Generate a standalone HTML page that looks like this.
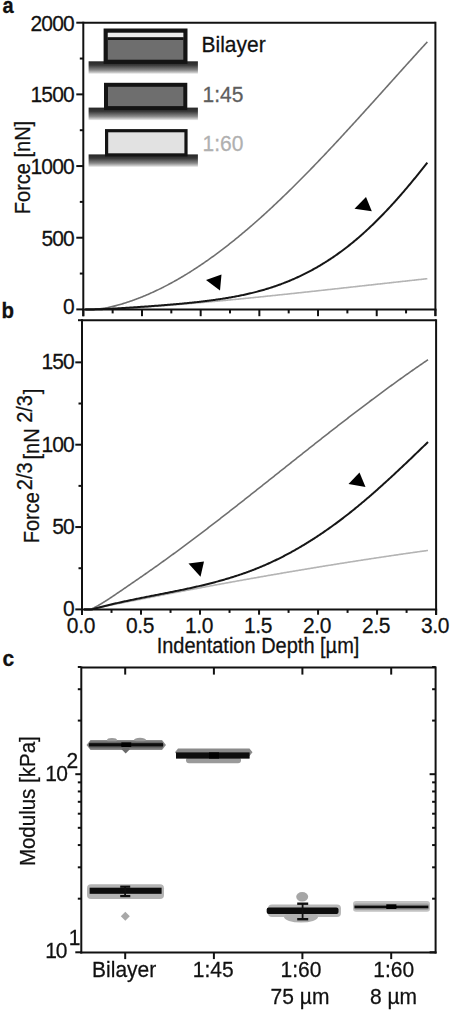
<!DOCTYPE html>
<html><head><meta charset="utf-8"><style>
html,body{margin:0;padding:0;background:#fff;}
svg{display:block;}
text{font-family:"Liberation Sans",sans-serif;stroke-width:0.25px;}
</style></head><body>
<svg width="450" height="1011" viewBox="0 0 450 1011">
<defs><filter id="soft" x="-5%" y="-50%" width="110%" height="200%"><feGaussianBlur stdDeviation="0.6"/></filter><linearGradient id="bg" x1="0" y1="0" x2="0" y2="1">
<stop offset="0" stop-color="#262626"/><stop offset="0.3" stop-color="#383838"/><stop offset="0.7" stop-color="#888"/><stop offset="0.9" stop-color="#c8c8c8"/><stop offset="1" stop-color="#ededed"/></linearGradient></defs>
<rect width="450" height="1011" fill="#fff"/>
<text transform="translate(2.50,13.20) scale(1,1.07)" font-size="20" text-anchor="start" fill="#111" stroke="#111" font-weight="bold">a</text>
<text transform="translate(1.50,317.60) scale(1,1.07)" font-size="20.5" text-anchor="start" fill="#111" stroke="#111" font-weight="bold">b</text>
<text transform="translate(2.50,665.80) scale(1,1.07)" font-size="21" text-anchor="start" fill="#111" stroke="#111" font-weight="bold">c</text>
<path d="M85.29,309.40 L86.28,309.40 L87.28,309.40 L88.27,309.40 L89.27,309.40 L90.26,309.40 L91.25,309.40 L92.25,309.39 L93.24,309.38 L94.24,309.37 L95.23,309.35 L96.23,309.33 L97.22,309.31 L98.22,309.28 L99.21,309.26 L100.20,309.23 L101.20,309.20 L102.19,309.17 L103.19,309.14 L104.18,309.11 L105.18,309.07 L106.17,309.04 L107.16,309.00 L108.16,308.96 L109.15,308.92 L110.15,308.88 L111.14,308.84 L112.14,308.80 L113.13,308.76 L114.12,308.72 L115.12,308.67 L116.11,308.63 L117.11,308.58 L118.10,308.53 L119.10,308.48 L120.09,308.44 L121.09,308.39 L122.08,308.34 L123.07,308.28 L124.07,308.23 L125.06,308.18 L126.06,308.13 L127.05,308.07 L128.05,308.02 L129.04,307.96 L130.03,307.91 L131.03,307.85 L132.02,307.79 L133.02,307.73 L134.01,307.67 L135.01,307.61 L136.00,307.55 L137.00,307.49 L137.99,307.43 L138.98,307.37 L139.98,307.31 L140.97,307.24 L141.97,307.18 L142.96,307.12 L143.96,307.05 L144.95,306.99 L145.94,306.92 L146.94,306.85 L147.93,306.79 L148.93,306.72 L149.92,306.65 L150.92,306.58 L151.91,306.51 L152.90,306.45 L153.90,306.38 L154.89,306.30 L155.89,306.23 L156.88,306.16 L157.88,306.09 L158.87,306.02 L159.87,305.95 L160.86,305.87 L161.85,305.80 L162.85,305.72 L163.84,305.65 L164.84,305.58 L165.83,305.50 L166.83,305.42 L167.82,305.35 L168.81,305.27 L169.81,305.19 L170.80,305.12 L171.80,305.04 L172.79,304.96 L173.79,304.88 L174.78,304.80 L175.77,304.72 L176.77,304.64 L177.76,304.56 L178.76,304.48 L179.75,304.40 L180.75,304.32 L181.74,304.24 L182.74,304.16 L183.73,304.07 L184.72,303.99 L185.72,303.91 L186.71,303.82 L187.71,303.74 L188.70,303.66 L189.70,303.57 L190.69,303.49 L191.68,303.40 L192.68,303.32 L193.67,303.23 L194.67,303.14 L195.66,303.06 L196.66,302.97 L197.65,302.88 L198.64,302.80 L199.64,302.71 L200.63,302.62 L201.63,302.53 L202.62,302.44 L203.62,302.36 L204.61,302.27 L205.61,302.18 L206.60,302.09 L207.59,302.00 L208.59,301.91 L209.58,301.82 L210.58,301.72 L211.57,301.63 L212.57,301.54 L213.56,301.45 L214.55,301.36 L215.55,301.27 L216.54,301.17 L217.54,301.08 L218.53,300.99 L219.53,300.89 L220.52,300.80 L221.51,300.71 L222.51,300.61 L223.50,300.52 L224.50,300.43 L225.49,300.33 L226.49,300.24 L227.48,300.14 L228.48,300.04 L229.47,299.95 L230.46,299.85 L231.46,299.76 L232.45,299.66 L233.45,299.56 L234.44,299.47 L235.44,299.37 L236.43,299.27 L237.42,299.18 L238.42,299.08 L239.41,298.98 L240.41,298.88 L241.40,298.78 L242.40,298.69 L243.39,298.59 L244.39,298.49 L245.38,298.39 L246.37,298.29 L247.37,298.19 L248.36,298.09 L249.36,297.99 L250.35,297.89 L251.35,297.79 L252.34,297.69 L253.33,297.59 L254.33,297.49 L255.32,297.39 L256.32,297.29 L257.31,297.19 L258.31,297.09 L259.30,296.98 L260.29,296.88 L261.29,296.78 L262.28,296.68 L263.28,296.58 L264.27,296.47 L265.27,296.37 L266.26,296.27 L267.26,296.17 L268.25,296.06 L269.24,295.96 L270.24,295.86 L271.23,295.75 L272.23,295.65 L273.22,295.55 L274.22,295.44 L275.21,295.34 L276.20,295.23 L277.20,295.13 L278.19,295.03 L279.19,294.92 L280.18,294.82 L281.18,294.71 L282.17,294.61 L283.16,294.50 L284.16,294.40 L285.15,294.29 L286.15,294.19 L287.14,294.08 L288.14,293.98 L289.13,293.87 L290.13,293.76 L291.12,293.66 L292.11,293.55 L293.11,293.45 L294.10,293.34 L295.10,293.23 L296.09,293.13 L297.09,293.02 L298.08,292.91 L299.07,292.81 L300.07,292.70 L301.06,292.59 L302.06,292.48 L303.05,292.38 L304.05,292.27 L305.04,292.16 L306.03,292.06 L307.03,291.95 L308.02,291.84 L309.02,291.73 L310.01,291.62 L311.01,291.52 L312.00,291.41 L313.00,291.30 L313.99,291.19 L314.98,291.08 L315.98,290.98 L316.97,290.87 L317.97,290.76 L318.96,290.65 L319.96,290.54 L320.95,290.43 L321.94,290.32 L322.94,290.22 L323.93,290.11 L324.93,290.00 L325.92,289.89 L326.92,289.78 L327.91,289.67 L328.90,289.56 L329.90,289.45 L330.89,289.34 L331.89,289.23 L332.88,289.12 L333.88,289.01 L334.87,288.91 L335.87,288.80 L336.86,288.69 L337.85,288.58 L338.85,288.47 L339.84,288.36 L340.84,288.25 L341.83,288.14 L342.83,288.03 L343.82,287.92 L344.81,287.81 L345.81,287.70 L346.80,287.59 L347.80,287.48 L348.79,287.37 L349.79,287.26 L350.78,287.15 L351.78,287.04 L352.77,286.93 L353.76,286.82 L354.76,286.71 L355.75,286.60 L356.75,286.49 L357.74,286.38 L358.74,286.27 L359.73,286.16 L360.72,286.05 L361.72,285.94 L362.71,285.82 L363.71,285.71 L364.70,285.60 L365.70,285.49 L366.69,285.38 L367.68,285.27 L368.68,285.16 L369.67,285.05 L370.67,284.94 L371.66,284.83 L372.66,284.72 L373.65,284.61 L374.65,284.50 L375.64,284.39 L376.63,284.28 L377.63,284.17 L378.62,284.06 L379.62,283.95 L380.61,283.84 L381.61,283.73 L382.60,283.62 L383.59,283.51 L384.59,283.40 L385.58,283.29 L386.58,283.18 L387.57,283.07 L388.57,282.96 L389.56,282.85 L390.55,282.74 L391.55,282.63 L392.54,282.51 L393.54,282.40 L394.53,282.29 L395.53,282.18 L396.52,282.07 L397.52,281.96 L398.51,281.85 L399.50,281.74 L400.50,281.63 L401.49,281.52 L402.49,281.41 L403.48,281.30 L404.48,281.20 L405.47,281.09 L406.46,280.98 L407.46,280.87 L408.45,280.76 L409.45,280.65 L410.44,280.54 L411.44,280.43 L412.43,280.32 L413.42,280.21 L414.42,280.10 L415.41,279.99 L416.41,279.88 L417.40,279.77 L418.40,279.66 L419.39,279.55 L420.39,279.44 L421.38,279.34 L422.37,279.23 L423.37,279.12 L424.36,279.01 L425.36,278.90 L426.35,278.79 L427.35,278.68" fill="none" stroke="#b4b4b4" stroke-width="1.6"/>
<path d="M85.29,309.40 L86.28,309.40 L87.28,309.40 L88.27,309.40 L89.27,309.40 L90.26,309.40 L91.25,309.40 L92.25,309.39 L93.24,309.36 L94.24,309.31 L95.23,309.25 L96.23,309.18 L97.22,309.10 L98.22,309.00 L99.21,308.90 L100.20,308.78 L101.20,308.66 L102.19,308.52 L103.19,308.37 L104.18,308.21 L105.18,308.05 L106.17,307.87 L107.16,307.68 L108.16,307.49 L109.15,307.28 L110.15,307.07 L111.14,306.84 L112.14,306.61 L113.13,306.37 L114.12,306.13 L115.12,305.87 L116.11,305.61 L117.11,305.35 L118.10,305.07 L119.10,304.80 L120.09,304.51 L121.09,304.22 L122.08,303.92 L123.07,303.62 L124.07,303.32 L125.06,303.00 L126.06,302.69 L127.05,302.36 L128.05,302.03 L129.04,301.70 L130.03,301.36 L131.03,301.01 L132.02,300.67 L133.02,300.31 L134.01,299.95 L135.01,299.59 L136.00,299.22 L137.00,298.84 L137.99,298.46 L138.98,298.08 L139.98,297.69 L140.97,297.29 L141.97,296.89 L142.96,296.49 L143.96,296.08 L144.95,295.67 L145.94,295.25 L146.94,294.83 L147.93,294.40 L148.93,293.97 L149.92,293.53 L150.92,293.09 L151.91,292.64 L152.90,292.19 L153.90,291.73 L154.89,291.27 L155.89,290.81 L156.88,290.34 L157.88,289.86 L158.87,289.38 L159.87,288.90 L160.86,288.41 L161.85,287.91 L162.85,287.41 L163.84,286.91 L164.84,286.40 L165.83,285.89 L166.83,285.37 L167.82,284.85 L168.81,284.32 L169.81,283.79 L170.80,283.25 L171.80,282.71 L172.79,282.17 L173.79,281.62 L174.78,281.06 L175.77,280.50 L176.77,279.94 L177.76,279.37 L178.76,278.80 L179.75,278.22 L180.75,277.64 L181.74,277.05 L182.74,276.46 L183.73,275.87 L184.72,275.27 L185.72,274.67 L186.71,274.06 L187.71,273.44 L188.70,272.83 L189.70,272.21 L190.69,271.58 L191.68,270.95 L192.68,270.32 L193.67,269.68 L194.67,269.04 L195.66,268.39 L196.66,267.74 L197.65,267.08 L198.64,266.42 L199.64,265.76 L200.63,265.09 L201.63,264.42 L202.62,263.74 L203.62,263.06 L204.61,262.38 L205.61,261.69 L206.60,261.00 L207.59,260.30 L208.59,259.60 L209.58,258.90 L210.58,258.19 L211.57,257.47 L212.57,256.76 L213.56,256.04 L214.55,255.31 L215.55,254.58 L216.54,253.85 L217.54,253.11 L218.53,252.37 L219.53,251.63 L220.52,250.88 L221.51,250.13 L222.51,249.37 L223.50,248.61 L224.50,247.85 L225.49,247.08 L226.49,246.31 L227.48,245.54 L228.48,244.76 L229.47,243.98 L230.46,243.19 L231.46,242.40 L232.45,241.61 L233.45,240.81 L234.44,240.01 L235.44,239.20 L236.43,238.40 L237.42,237.59 L238.42,236.77 L239.41,235.95 L240.41,235.13 L241.40,234.30 L242.40,233.47 L243.39,232.64 L244.39,231.81 L245.38,230.97 L246.37,230.12 L247.37,229.28 L248.36,228.43 L249.36,227.57 L250.35,226.72 L251.35,225.86 L252.34,225.00 L253.33,224.13 L254.33,223.26 L255.32,222.39 L256.32,221.51 L257.31,220.63 L258.31,219.75 L259.30,218.86 L260.29,217.97 L261.29,217.08 L262.28,216.19 L263.28,215.29 L264.27,214.39 L265.27,213.48 L266.26,212.57 L267.26,211.66 L268.25,210.75 L269.24,209.83 L270.24,208.91 L271.23,207.99 L272.23,207.07 L273.22,206.14 L274.22,205.21 L275.21,204.27 L276.20,203.33 L277.20,202.40 L278.19,201.45 L279.19,200.51 L280.18,199.56 L281.18,198.61 L282.17,197.65 L283.16,196.70 L284.16,195.74 L285.15,194.78 L286.15,193.81 L287.14,192.85 L288.14,191.88 L289.13,190.90 L290.13,189.93 L291.12,188.95 L292.11,187.97 L293.11,186.99 L294.10,186.01 L295.10,185.02 L296.09,184.03 L297.09,183.04 L298.08,182.04 L299.07,181.05 L300.07,180.05 L301.06,179.05 L302.06,178.04 L303.05,177.04 L304.05,176.03 L305.04,175.02 L306.03,174.01 L307.03,172.99 L308.02,171.98 L309.02,170.96 L310.01,169.94 L311.01,168.91 L312.00,167.89 L313.00,166.86 L313.99,165.83 L314.98,164.80 L315.98,163.77 L316.97,162.73 L317.97,161.69 L318.96,160.66 L319.96,159.61 L320.95,158.57 L321.94,157.53 L322.94,156.48 L323.93,155.43 L324.93,154.38 L325.92,153.33 L326.92,152.28 L327.91,151.22 L328.90,150.17 L329.90,149.11 L330.89,148.05 L331.89,146.99 L332.88,145.93 L333.88,144.86 L334.87,143.80 L335.87,142.73 L336.86,141.66 L337.85,140.59 L338.85,139.52 L339.84,138.45 L340.84,137.37 L341.83,136.30 L342.83,135.22 L343.82,134.14 L344.81,133.06 L345.81,131.98 L346.80,130.90 L347.80,129.82 L348.79,128.73 L349.79,127.65 L350.78,126.56 L351.78,125.47 L352.77,124.39 L353.76,123.30 L354.76,122.21 L355.75,121.11 L356.75,120.02 L357.74,118.93 L358.74,117.84 L359.73,116.74 L360.72,115.65 L361.72,114.55 L362.71,113.45 L363.71,112.35 L364.70,111.26 L365.70,110.16 L366.69,109.06 L367.68,107.96 L368.68,106.85 L369.67,105.75 L370.67,104.65 L371.66,103.55 L372.66,102.44 L373.65,101.34 L374.65,100.24 L375.64,99.13 L376.63,98.03 L377.63,96.92 L378.62,95.82 L379.62,94.71 L380.61,93.60 L381.61,92.50 L382.60,91.39 L383.59,90.28 L384.59,89.18 L385.58,88.07 L386.58,86.96 L387.57,85.86 L388.57,84.75 L389.56,83.64 L390.55,82.53 L391.55,81.43 L392.54,80.32 L393.54,79.21 L394.53,78.10 L395.53,77.00 L396.52,75.89 L397.52,74.79 L398.51,73.68 L399.50,72.57 L400.50,71.47 L401.49,70.36 L402.49,69.26 L403.48,68.15 L404.48,67.05 L405.47,65.95 L406.46,64.84 L407.46,63.74 L408.45,62.64 L409.45,61.54 L410.44,60.44 L411.44,59.34 L412.43,58.24 L413.42,57.14 L414.42,56.04 L415.41,54.94 L416.41,53.84 L417.40,52.75 L418.40,51.65 L419.39,50.56 L420.39,49.47 L421.38,48.37 L422.37,47.28 L423.37,46.19 L424.36,45.10 L425.36,44.01 L426.35,42.93 L427.35,41.84" fill="none" stroke="#6f6f6f" stroke-width="1.6"/>
<path d="M85.29,309.40 L86.28,309.40 L87.28,309.40 L88.27,309.40 L89.27,309.40 L90.26,309.40 L91.25,309.40 L92.25,309.40 L93.24,309.40 L94.24,309.39 L95.23,309.37 L96.23,309.35 L97.22,309.32 L98.22,309.29 L99.21,309.26 L100.20,309.22 L101.20,309.18 L102.19,309.14 L103.19,309.10 L104.18,309.06 L105.18,309.01 L106.17,308.97 L107.16,308.92 L108.16,308.87 L109.15,308.82 L110.15,308.77 L111.14,308.72 L112.14,308.66 L113.13,308.61 L114.12,308.56 L115.12,308.50 L116.11,308.44 L117.11,308.39 L118.10,308.33 L119.10,308.27 L120.09,308.21 L121.09,308.15 L122.08,308.09 L123.07,308.03 L124.07,307.97 L125.06,307.91 L126.06,307.85 L127.05,307.78 L128.05,307.72 L129.04,307.66 L130.03,307.59 L131.03,307.53 L132.02,307.47 L133.02,307.40 L134.01,307.33 L135.01,307.27 L136.00,307.20 L137.00,307.14 L137.99,307.07 L138.98,307.00 L139.98,306.93 L140.97,306.86 L141.97,306.80 L142.96,306.73 L143.96,306.66 L144.95,306.59 L145.94,306.52 L146.94,306.45 L147.93,306.38 L148.93,306.30 L149.92,306.23 L150.92,306.16 L151.91,306.09 L152.90,306.01 L153.90,305.94 L154.89,305.87 L155.89,305.79 L156.88,305.72 L157.88,305.64 L158.87,305.57 L159.87,305.49 L160.86,305.41 L161.85,305.33 L162.85,305.26 L163.84,305.18 L164.84,305.10 L165.83,305.02 L166.83,304.94 L167.82,304.85 L168.81,304.77 L169.81,304.69 L170.80,304.61 L171.80,304.52 L172.79,304.44 L173.79,304.35 L174.78,304.26 L175.77,304.18 L176.77,304.09 L177.76,304.00 L178.76,303.91 L179.75,303.82 L180.75,303.73 L181.74,303.64 L182.74,303.54 L183.73,303.45 L184.72,303.35 L185.72,303.26 L186.71,303.16 L187.71,303.06 L188.70,302.96 L189.70,302.86 L190.69,302.76 L191.68,302.65 L192.68,302.55 L193.67,302.44 L194.67,302.34 L195.66,302.23 L196.66,302.12 L197.65,302.01 L198.64,301.90 L199.64,301.78 L200.63,301.67 L201.63,301.55 L202.62,301.44 L203.62,301.32 L204.61,301.20 L205.61,301.07 L206.60,300.95 L207.59,300.82 L208.59,300.70 L209.58,300.57 L210.58,300.44 L211.57,300.30 L212.57,300.17 L213.56,300.03 L214.55,299.90 L215.55,299.76 L216.54,299.61 L217.54,299.47 L218.53,299.32 L219.53,299.18 L220.52,299.03 L221.51,298.87 L222.51,298.72 L223.50,298.56 L224.50,298.40 L225.49,298.24 L226.49,298.08 L227.48,297.91 L228.48,297.74 L229.47,297.57 L230.46,297.40 L231.46,297.22 L232.45,297.05 L233.45,296.87 L234.44,296.68 L235.44,296.49 L236.43,296.31 L237.42,296.11 L238.42,295.92 L239.41,295.72 L240.41,295.52 L241.40,295.32 L242.40,295.11 L243.39,294.90 L244.39,294.68 L245.38,294.47 L246.37,294.25 L247.37,294.03 L248.36,293.80 L249.36,293.57 L250.35,293.34 L251.35,293.10 L252.34,292.86 L253.33,292.61 L254.33,292.37 L255.32,292.11 L256.32,291.86 L257.31,291.60 L258.31,291.34 L259.30,291.07 L260.29,290.80 L261.29,290.52 L262.28,290.24 L263.28,289.96 L264.27,289.67 L265.27,289.38 L266.26,289.08 L267.26,288.78 L268.25,288.47 L269.24,288.16 L270.24,287.85 L271.23,287.53 L272.23,287.20 L273.22,286.87 L274.22,286.54 L275.21,286.20 L276.20,285.86 L277.20,285.51 L278.19,285.16 L279.19,284.80 L280.18,284.44 L281.18,284.07 L282.17,283.69 L283.16,283.32 L284.16,282.93 L285.15,282.55 L286.15,282.15 L287.14,281.76 L288.14,281.35 L289.13,280.95 L290.13,280.53 L291.12,280.11 L292.11,279.69 L293.11,279.26 L294.10,278.82 L295.10,278.38 L296.09,277.94 L297.09,277.49 L298.08,277.03 L299.07,276.57 L300.07,276.10 L301.06,275.63 L302.06,275.15 L303.05,274.66 L304.05,274.17 L305.04,273.68 L306.03,273.18 L307.03,272.67 L308.02,272.15 L309.02,271.63 L310.01,271.11 L311.01,270.58 L312.00,270.04 L313.00,269.50 L313.99,268.95 L314.98,268.39 L315.98,267.83 L316.97,267.26 L317.97,266.69 L318.96,266.11 L319.96,265.52 L320.95,264.93 L321.94,264.33 L322.94,263.72 L323.93,263.11 L324.93,262.49 L325.92,261.87 L326.92,261.24 L327.91,260.60 L328.90,259.95 L329.90,259.30 L330.89,258.65 L331.89,257.98 L332.88,257.31 L333.88,256.63 L334.87,255.95 L335.87,255.26 L336.86,254.56 L337.85,253.85 L338.85,253.14 L339.84,252.42 L340.84,251.70 L341.83,250.97 L342.83,250.23 L343.82,249.48 L344.81,248.73 L345.81,247.96 L346.80,247.20 L347.80,246.42 L348.79,245.64 L349.79,244.85 L350.78,244.05 L351.78,243.25 L352.77,242.44 L353.76,241.62 L354.76,240.79 L355.75,239.96 L356.75,239.12 L357.74,238.27 L358.74,237.41 L359.73,236.55 L360.72,235.68 L361.72,234.80 L362.71,233.92 L363.71,233.03 L364.70,232.13 L365.70,231.22 L366.69,230.31 L367.68,229.39 L368.68,228.46 L369.67,227.53 L370.67,226.58 L371.66,225.64 L372.66,224.68 L373.65,223.72 L374.65,222.75 L375.64,221.77 L376.63,220.79 L377.63,219.80 L378.62,218.80 L379.62,217.80 L380.61,216.79 L381.61,215.77 L382.60,214.75 L383.59,213.72 L384.59,212.68 L385.58,211.64 L386.58,210.59 L387.57,209.53 L388.57,208.47 L389.56,207.40 L390.55,206.32 L391.55,205.24 L392.54,204.15 L393.54,203.06 L394.53,201.96 L395.53,200.85 L396.52,199.74 L397.52,198.62 L398.51,197.50 L399.50,196.37 L400.50,195.23 L401.49,194.09 L402.49,192.94 L403.48,191.79 L404.48,190.63 L405.47,189.46 L406.46,188.29 L407.46,187.12 L408.45,185.94 L409.45,184.75 L410.44,183.56 L411.44,182.36 L412.43,181.16 L413.42,179.95 L414.42,178.74 L415.41,177.52 L416.41,176.30 L417.40,175.07 L418.40,173.84 L419.39,172.60 L420.39,171.36 L421.38,170.11 L422.37,168.86 L423.37,167.60 L424.36,166.34 L425.36,165.08 L426.35,163.81 L427.35,162.54" fill="none" stroke="#161616" stroke-width="2.0"/>
<path d="M84.00,609.40 L85.00,609.40 L86.00,609.40 L87.00,609.40 L88.00,609.40 L89.00,609.40 L90.00,609.39 L91.00,609.18 L92.00,608.98 L93.00,608.77 L94.00,608.57 L95.00,608.37 L96.00,608.16 L97.00,607.96 L98.00,607.76 L99.00,607.55 L100.00,607.35 L101.00,607.15 L102.00,606.95 L103.00,606.75 L104.00,606.54 L105.00,606.34 L106.00,606.14 L107.00,605.94 L108.00,605.74 L109.00,605.53 L110.00,605.33 L111.00,605.13 L112.00,604.93 L113.00,604.73 L114.00,604.53 L115.00,604.33 L116.00,604.13 L117.00,603.93 L118.00,603.73 L119.00,603.53 L120.00,603.33 L121.00,603.13 L122.00,602.93 L123.00,602.73 L124.00,602.53 L125.00,602.33 L126.00,602.13 L127.00,601.94 L128.00,601.74 L129.00,601.54 L130.00,601.34 L131.00,601.14 L132.00,600.94 L133.00,600.75 L134.00,600.55 L135.00,600.35 L136.00,600.15 L137.00,599.96 L138.00,599.76 L139.00,599.56 L140.00,599.37 L141.00,599.17 L142.00,598.97 L143.00,598.78 L144.00,598.58 L145.00,598.39 L146.00,598.19 L147.00,597.99 L148.00,597.80 L149.00,597.60 L150.00,597.41 L151.00,597.21 L152.00,597.02 L153.00,596.82 L154.00,596.63 L155.00,596.44 L156.00,596.24 L157.00,596.05 L158.00,595.85 L159.00,595.66 L160.00,595.47 L161.00,595.27 L162.00,595.08 L163.00,594.89 L164.00,594.69 L165.00,594.50 L166.00,594.31 L167.00,594.12 L168.00,593.92 L169.00,593.73 L170.00,593.54 L171.00,593.35 L172.00,593.16 L173.00,592.97 L174.00,592.77 L175.00,592.58 L176.00,592.39 L177.00,592.20 L178.00,592.01 L179.00,591.82 L180.00,591.63 L181.00,591.44 L182.00,591.25 L183.00,591.06 L184.00,590.87 L185.00,590.68 L186.00,590.49 L187.00,590.30 L188.00,590.11 L189.00,589.93 L190.00,589.74 L191.00,589.55 L192.00,589.36 L193.00,589.17 L194.00,588.99 L195.00,588.80 L196.00,588.61 L197.00,588.42 L198.00,588.24 L199.00,588.05 L200.00,587.86 L201.00,587.68 L202.00,587.49 L203.00,587.30 L204.00,587.12 L205.00,586.93 L206.00,586.74 L207.00,586.56 L208.00,586.37 L209.00,586.19 L210.00,586.00 L211.00,585.82 L212.00,585.63 L213.00,585.45 L214.00,585.26 L215.00,585.08 L216.00,584.90 L217.00,584.71 L218.00,584.53 L219.00,584.35 L220.00,584.16 L221.00,583.98 L222.00,583.80 L223.00,583.61 L224.00,583.43 L225.00,583.25 L226.00,583.07 L227.00,582.88 L228.00,582.70 L229.00,582.52 L230.00,582.34 L231.00,582.16 L232.00,581.98 L233.00,581.80 L234.00,581.62 L235.00,581.44 L236.00,581.26 L237.00,581.08 L238.00,580.90 L239.00,580.72 L240.00,580.54 L241.00,580.36 L242.00,580.18 L243.00,580.00 L244.00,579.82 L245.00,579.64 L246.00,579.46 L247.00,579.28 L248.00,579.11 L249.00,578.93 L250.00,578.75 L251.00,578.57 L252.00,578.40 L253.00,578.22 L254.00,578.04 L255.00,577.86 L256.00,577.69 L257.00,577.51 L258.00,577.34 L259.00,577.16 L260.00,576.98 L261.00,576.81 L262.00,576.63 L263.00,576.46 L264.00,576.28 L265.00,576.11 L266.00,575.93 L267.00,575.76 L268.00,575.58 L269.00,575.41 L270.00,575.24 L271.00,575.06 L272.00,574.89 L273.00,574.72 L274.00,574.54 L275.00,574.37 L276.00,574.20 L277.00,574.02 L278.00,573.85 L279.00,573.68 L280.00,573.51 L281.00,573.34 L282.00,573.16 L283.00,572.99 L284.00,572.82 L285.00,572.65 L286.00,572.48 L287.00,572.31 L288.00,572.14 L289.00,571.97 L290.00,571.80 L291.00,571.63 L292.00,571.46 L293.00,571.29 L294.00,571.12 L295.00,570.95 L296.00,570.78 L297.00,570.62 L298.00,570.45 L299.00,570.28 L300.00,570.11 L301.00,569.94 L302.00,569.78 L303.00,569.61 L304.00,569.44 L305.00,569.28 L306.00,569.11 L307.00,568.94 L308.00,568.78 L309.00,568.61 L310.00,568.44 L311.00,568.28 L312.00,568.11 L313.00,567.95 L314.00,567.78 L315.00,567.62 L316.00,567.45 L317.00,567.29 L318.00,567.13 L319.00,566.96 L320.00,566.80 L321.00,566.63 L322.00,566.47 L323.00,566.31 L324.00,566.15 L325.00,565.98 L326.00,565.82 L327.00,565.66 L328.00,565.50 L329.00,565.33 L330.00,565.17 L331.00,565.01 L332.00,564.85 L333.00,564.69 L334.00,564.53 L335.00,564.37 L336.00,564.21 L337.00,564.05 L338.00,563.89 L339.00,563.73 L340.00,563.57 L341.00,563.41 L342.00,563.25 L343.00,563.09 L344.00,562.93 L345.00,562.77 L346.00,562.62 L347.00,562.46 L348.00,562.30 L349.00,562.14 L350.00,561.99 L351.00,561.83 L352.00,561.67 L353.00,561.52 L354.00,561.36 L355.00,561.20 L356.00,561.05 L357.00,560.89 L358.00,560.74 L359.00,560.58 L360.00,560.43 L361.00,560.27 L362.00,560.12 L363.00,559.96 L364.00,559.81 L365.00,559.65 L366.00,559.50 L367.00,559.35 L368.00,559.19 L369.00,559.04 L370.00,558.89 L371.00,558.73 L372.00,558.58 L373.00,558.43 L374.00,558.28 L375.00,558.13 L376.00,557.98 L377.00,557.82 L378.00,557.67 L379.00,557.52 L380.00,557.37 L381.00,557.22 L382.00,557.07 L383.00,556.92 L384.00,556.77 L385.00,556.62 L386.00,556.47 L387.00,556.32 L388.00,556.18 L389.00,556.03 L390.00,555.88 L391.00,555.73 L392.00,555.58 L393.00,555.44 L394.00,555.29 L395.00,555.14 L396.00,554.99 L397.00,554.85 L398.00,554.70 L399.00,554.56 L400.00,554.41 L401.00,554.26 L402.00,554.12 L403.00,553.97 L404.00,553.83 L405.00,553.68 L406.00,553.54 L407.00,553.40 L408.00,553.25 L409.00,553.11 L410.00,552.96 L411.00,552.82 L412.00,552.68 L413.00,552.54 L414.00,552.39 L415.00,552.25 L416.00,552.11 L417.00,551.97 L418.00,551.82 L419.00,551.68 L420.00,551.54 L421.00,551.40 L422.00,551.26 L423.00,551.12 L424.00,550.98 L425.00,550.84 L426.00,550.70 L427.00,550.56 L428.00,550.42" fill="none" stroke="#b4b4b4" stroke-width="1.6"/>
<path d="M84.00,609.40 L85.00,609.40 L86.00,609.40 L87.00,609.40 L88.00,609.40 L89.00,609.40 L90.00,609.40 L91.00,609.11 L92.00,608.66 L93.00,608.19 L94.00,607.71 L95.00,607.20 L96.00,606.68 L97.00,606.15 L98.00,605.60 L99.00,605.04 L100.00,604.46 L101.00,603.87 L102.00,603.27 L103.00,602.66 L104.00,602.04 L105.00,601.41 L106.00,600.77 L107.00,600.13 L108.00,599.48 L109.00,598.82 L110.00,598.16 L111.00,597.49 L112.00,596.82 L113.00,596.14 L114.00,595.47 L115.00,594.79 L116.00,594.11 L117.00,593.44 L118.00,592.76 L119.00,592.08 L120.00,591.40 L121.00,590.72 L122.00,590.04 L123.00,589.36 L124.00,588.68 L125.00,588.00 L126.00,587.32 L127.00,586.63 L128.00,585.95 L129.00,585.27 L130.00,584.58 L131.00,583.90 L132.00,583.21 L133.00,582.52 L134.00,581.84 L135.00,581.15 L136.00,580.46 L137.00,579.77 L138.00,579.08 L139.00,578.39 L140.00,577.70 L141.00,577.00 L142.00,576.31 L143.00,575.62 L144.00,574.92 L145.00,574.22 L146.00,573.53 L147.00,572.83 L148.00,572.13 L149.00,571.43 L150.00,570.72 L151.00,570.02 L152.00,569.32 L153.00,568.61 L154.00,567.91 L155.00,567.20 L156.00,566.49 L157.00,565.78 L158.00,565.07 L159.00,564.35 L160.00,563.64 L161.00,562.92 L162.00,562.21 L163.00,561.49 L164.00,560.77 L165.00,560.05 L166.00,559.33 L167.00,558.61 L168.00,557.88 L169.00,557.16 L170.00,556.43 L171.00,555.70 L172.00,554.97 L173.00,554.24 L174.00,553.51 L175.00,552.78 L176.00,552.04 L177.00,551.31 L178.00,550.57 L179.00,549.83 L180.00,549.10 L181.00,548.36 L182.00,547.62 L183.00,546.87 L184.00,546.13 L185.00,545.39 L186.00,544.64 L187.00,543.90 L188.00,543.15 L189.00,542.40 L190.00,541.65 L191.00,540.90 L192.00,540.15 L193.00,539.40 L194.00,538.65 L195.00,537.89 L196.00,537.14 L197.00,536.38 L198.00,535.62 L199.00,534.87 L200.00,534.11 L201.00,533.35 L202.00,532.59 L203.00,531.83 L204.00,531.07 L205.00,530.30 L206.00,529.54 L207.00,528.77 L208.00,528.01 L209.00,527.24 L210.00,526.48 L211.00,525.71 L212.00,524.94 L213.00,524.17 L214.00,523.40 L215.00,522.63 L216.00,521.86 L217.00,521.09 L218.00,520.31 L219.00,519.54 L220.00,518.77 L221.00,517.99 L222.00,517.21 L223.00,516.44 L224.00,515.66 L225.00,514.88 L226.00,514.11 L227.00,513.33 L228.00,512.55 L229.00,511.77 L230.00,510.99 L231.00,510.21 L232.00,509.43 L233.00,508.64 L234.00,507.86 L235.00,507.08 L236.00,506.29 L237.00,505.51 L238.00,504.73 L239.00,503.94 L240.00,503.16 L241.00,502.37 L242.00,501.58 L243.00,500.80 L244.00,500.01 L245.00,499.22 L246.00,498.43 L247.00,497.65 L248.00,496.86 L249.00,496.07 L250.00,495.28 L251.00,494.49 L252.00,493.70 L253.00,492.91 L254.00,492.12 L255.00,491.33 L256.00,490.53 L257.00,489.74 L258.00,488.95 L259.00,488.16 L260.00,487.37 L261.00,486.57 L262.00,485.78 L263.00,484.99 L264.00,484.20 L265.00,483.40 L266.00,482.61 L267.00,481.81 L268.00,481.02 L269.00,480.23 L270.00,479.43 L271.00,478.64 L272.00,477.84 L273.00,477.05 L274.00,476.26 L275.00,475.46 L276.00,474.67 L277.00,473.87 L278.00,473.08 L279.00,472.28 L280.00,471.49 L281.00,470.69 L282.00,469.90 L283.00,469.10 L284.00,468.31 L285.00,467.51 L286.00,466.72 L287.00,465.92 L288.00,465.13 L289.00,464.34 L290.00,463.54 L291.00,462.75 L292.00,461.95 L293.00,461.16 L294.00,460.36 L295.00,459.57 L296.00,458.78 L297.00,457.98 L298.00,457.19 L299.00,456.40 L300.00,455.60 L301.00,454.81 L302.00,454.02 L303.00,453.23 L304.00,452.44 L305.00,451.64 L306.00,450.85 L307.00,450.06 L308.00,449.27 L309.00,448.48 L310.00,447.69 L311.00,446.90 L312.00,446.11 L313.00,445.32 L314.00,444.53 L315.00,443.74 L316.00,442.96 L317.00,442.17 L318.00,441.38 L319.00,440.59 L320.00,439.81 L321.00,439.02 L322.00,438.24 L323.00,437.45 L324.00,436.67 L325.00,435.88 L326.00,435.10 L327.00,434.31 L328.00,433.53 L329.00,432.75 L330.00,431.97 L331.00,431.19 L332.00,430.41 L333.00,429.63 L334.00,428.85 L335.00,428.07 L336.00,427.29 L337.00,426.51 L338.00,425.73 L339.00,424.96 L340.00,424.18 L341.00,423.41 L342.00,422.63 L343.00,421.86 L344.00,421.09 L345.00,420.31 L346.00,419.54 L347.00,418.77 L348.00,418.00 L349.00,417.23 L350.00,416.46 L351.00,415.70 L352.00,414.93 L353.00,414.16 L354.00,413.40 L355.00,412.63 L356.00,411.87 L357.00,411.10 L358.00,410.34 L359.00,409.58 L360.00,408.82 L361.00,408.06 L362.00,407.30 L363.00,406.54 L364.00,405.79 L365.00,405.03 L366.00,404.27 L367.00,403.52 L368.00,402.77 L369.00,402.02 L370.00,401.26 L371.00,400.51 L372.00,399.76 L373.00,399.02 L374.00,398.27 L375.00,397.52 L376.00,396.78 L377.00,396.03 L378.00,395.29 L379.00,394.55 L380.00,393.81 L381.00,393.07 L382.00,392.33 L383.00,391.59 L384.00,390.85 L385.00,390.12 L386.00,389.38 L387.00,388.65 L388.00,387.92 L389.00,387.19 L390.00,386.46 L391.00,385.73 L392.00,385.00 L393.00,384.28 L394.00,383.55 L395.00,382.83 L396.00,382.11 L397.00,381.38 L398.00,380.67 L399.00,379.95 L400.00,379.23 L401.00,378.51 L402.00,377.80 L403.00,377.09 L404.00,376.37 L405.00,375.66 L406.00,374.96 L407.00,374.25 L408.00,373.54 L409.00,372.84 L410.00,372.13 L411.00,371.43 L412.00,370.73 L413.00,370.03 L414.00,369.33 L415.00,368.64 L416.00,367.94 L417.00,367.25 L418.00,366.56 L419.00,365.87 L420.00,365.18 L421.00,364.49 L422.00,363.81 L423.00,363.12 L424.00,362.44 L425.00,361.76 L426.00,361.08 L427.00,360.40 L428.00,359.73" fill="none" stroke="#6f6f6f" stroke-width="1.6"/>
<path d="M84.00,609.40 L85.00,609.40 L86.00,609.40 L87.00,609.40 L88.00,609.40 L89.00,609.40 L90.00,609.40 L91.00,609.40 L92.00,609.40 L93.00,609.12 L94.00,608.84 L95.00,608.57 L96.00,608.30 L97.00,608.03 L98.00,607.76 L99.00,607.50 L100.00,607.24 L101.00,606.98 L102.00,606.72 L103.00,606.47 L104.00,606.21 L105.00,605.96 L106.00,605.72 L107.00,605.47 L108.00,605.22 L109.00,604.98 L110.00,604.74 L111.00,604.50 L112.00,604.27 L113.00,604.03 L114.00,603.80 L115.00,603.57 L116.00,603.34 L117.00,603.11 L118.00,602.88 L119.00,602.66 L120.00,602.43 L121.00,602.21 L122.00,601.99 L123.00,601.77 L124.00,601.55 L125.00,601.34 L126.00,601.12 L127.00,600.91 L128.00,600.69 L129.00,600.48 L130.00,600.27 L131.00,600.06 L132.00,599.86 L133.00,599.65 L134.00,599.44 L135.00,599.24 L136.00,599.03 L137.00,598.83 L138.00,598.62 L139.00,598.42 L140.00,598.22 L141.00,598.02 L142.00,597.82 L143.00,597.62 L144.00,597.42 L145.00,597.22 L146.00,597.02 L147.00,596.83 L148.00,596.63 L149.00,596.43 L150.00,596.24 L151.00,596.04 L152.00,595.84 L153.00,595.65 L154.00,595.45 L155.00,595.26 L156.00,595.06 L157.00,594.86 L158.00,594.67 L159.00,594.47 L160.00,594.28 L161.00,594.08 L162.00,593.88 L163.00,593.69 L164.00,593.49 L165.00,593.29 L166.00,593.10 L167.00,592.90 L168.00,592.70 L169.00,592.50 L170.00,592.30 L171.00,592.10 L172.00,591.90 L173.00,591.70 L174.00,591.50 L175.00,591.30 L176.00,591.10 L177.00,590.89 L178.00,590.69 L179.00,590.48 L180.00,590.28 L181.00,590.07 L182.00,589.86 L183.00,589.65 L184.00,589.44 L185.00,589.23 L186.00,589.02 L187.00,588.80 L188.00,588.59 L189.00,588.37 L190.00,588.15 L191.00,587.93 L192.00,587.71 L193.00,587.49 L194.00,587.27 L195.00,587.04 L196.00,586.81 L197.00,586.59 L198.00,586.36 L199.00,586.12 L200.00,585.89 L201.00,585.66 L202.00,585.42 L203.00,585.18 L204.00,584.94 L205.00,584.70 L206.00,584.45 L207.00,584.21 L208.00,583.96 L209.00,583.71 L210.00,583.45 L211.00,583.20 L212.00,582.94 L213.00,582.68 L214.00,582.42 L215.00,582.16 L216.00,581.89 L217.00,581.62 L218.00,581.35 L219.00,581.07 L220.00,580.80 L221.00,580.52 L222.00,580.24 L223.00,579.95 L224.00,579.67 L225.00,579.38 L226.00,579.08 L227.00,578.79 L228.00,578.49 L229.00,578.19 L230.00,577.88 L231.00,577.58 L232.00,577.27 L233.00,576.95 L234.00,576.64 L235.00,576.32 L236.00,575.99 L237.00,575.67 L238.00,575.34 L239.00,575.01 L240.00,574.67 L241.00,574.33 L242.00,573.99 L243.00,573.64 L244.00,573.29 L245.00,572.94 L246.00,572.58 L247.00,572.22 L248.00,571.86 L249.00,571.49 L250.00,571.12 L251.00,570.74 L252.00,570.36 L253.00,569.98 L254.00,569.59 L255.00,569.20 L256.00,568.80 L257.00,568.40 L258.00,568.00 L259.00,567.59 L260.00,567.18 L261.00,566.77 L262.00,566.35 L263.00,565.92 L264.00,565.49 L265.00,565.06 L266.00,564.62 L267.00,564.18 L268.00,563.73 L269.00,563.28 L270.00,562.83 L271.00,562.37 L272.00,561.90 L273.00,561.44 L274.00,560.96 L275.00,560.49 L276.00,560.01 L277.00,559.52 L278.00,559.03 L279.00,558.54 L280.00,558.04 L281.00,557.53 L282.00,557.03 L283.00,556.52 L284.00,556.00 L285.00,555.48 L286.00,554.95 L287.00,554.43 L288.00,553.89 L289.00,553.36 L290.00,552.81 L291.00,552.27 L292.00,551.72 L293.00,551.16 L294.00,550.60 L295.00,550.04 L296.00,549.47 L297.00,548.90 L298.00,548.33 L299.00,547.75 L300.00,547.16 L301.00,546.57 L302.00,545.98 L303.00,545.38 L304.00,544.78 L305.00,544.18 L306.00,543.57 L307.00,542.95 L308.00,542.34 L309.00,541.71 L310.00,541.09 L311.00,540.46 L312.00,539.82 L313.00,539.18 L314.00,538.54 L315.00,537.89 L316.00,537.24 L317.00,536.59 L318.00,535.93 L319.00,535.26 L320.00,534.59 L321.00,533.92 L322.00,533.25 L323.00,532.56 L324.00,531.88 L325.00,531.19 L326.00,530.50 L327.00,529.80 L328.00,529.10 L329.00,528.39 L330.00,527.68 L331.00,526.97 L332.00,526.25 L333.00,525.53 L334.00,524.81 L335.00,524.08 L336.00,523.34 L337.00,522.60 L338.00,521.86 L339.00,521.12 L340.00,520.37 L341.00,519.61 L342.00,518.85 L343.00,518.09 L344.00,517.32 L345.00,516.55 L346.00,515.78 L347.00,515.00 L348.00,514.22 L349.00,513.43 L350.00,512.64 L351.00,511.85 L352.00,511.05 L353.00,510.24 L354.00,509.44 L355.00,508.63 L356.00,507.81 L357.00,506.99 L358.00,506.17 L359.00,505.34 L360.00,504.51 L361.00,503.68 L362.00,502.84 L363.00,502.00 L364.00,501.16 L365.00,500.31 L366.00,499.46 L367.00,498.61 L368.00,497.75 L369.00,496.89 L370.00,496.02 L371.00,495.16 L372.00,494.28 L373.00,493.41 L374.00,492.53 L375.00,491.65 L376.00,490.77 L377.00,489.89 L378.00,489.00 L379.00,488.11 L380.00,487.21 L381.00,486.32 L382.00,485.42 L383.00,484.51 L384.00,483.61 L385.00,482.70 L386.00,481.79 L387.00,480.88 L388.00,479.97 L389.00,479.05 L390.00,478.13 L391.00,477.21 L392.00,476.29 L393.00,475.36 L394.00,474.43 L395.00,473.50 L396.00,472.57 L397.00,471.64 L398.00,470.70 L399.00,469.77 L400.00,468.83 L401.00,467.89 L402.00,466.95 L403.00,466.00 L404.00,465.06 L405.00,464.11 L406.00,463.16 L407.00,462.21 L408.00,461.26 L409.00,460.31 L410.00,459.35 L411.00,458.40 L412.00,457.44 L413.00,456.48 L414.00,455.53 L415.00,454.57 L416.00,453.61 L417.00,452.64 L418.00,451.68 L419.00,450.72 L420.00,449.75 L421.00,448.79 L422.00,447.82 L423.00,446.86 L424.00,445.89 L425.00,444.92 L426.00,443.96 L427.00,442.99 L428.00,442.02" fill="none" stroke="#161616" stroke-width="2.0"/>
<polygon points="206,280 221.5,274.5 220,290.5" fill="#000"/>
<polygon points="354.5,208.8 366,197 371.8,211.2" fill="#000"/>
<polygon points="188.5,563.5 204,561.5 200.5,576.8" fill="#000"/>
<polygon points="348.5,484 359.5,472.5 365.5,487" fill="#000"/>
<line x1="83.30" y1="22.70" x2="435.40" y2="22.70" stroke="#111" stroke-width="2.0"/>
<line x1="435.40" y1="21.70" x2="435.40" y2="315.90" stroke="#111" stroke-width="2.0"/>
<line x1="83.30" y1="21.70" x2="83.30" y2="316.20" stroke="#111" stroke-width="2.0"/>
<line x1="82.30" y1="309.40" x2="436.40" y2="309.40" stroke="#111" stroke-width="2.0"/>
<line x1="76.30" y1="309.40" x2="83.30" y2="309.40" stroke="#111" stroke-width="2.0"/>
<text transform="translate(74.00,314.20) scale(1,1.07)" font-size="21" text-anchor="end" fill="#111" stroke="#111" letter-spacing="-0.8" >0</text>
<line x1="76.30" y1="237.72" x2="83.30" y2="237.72" stroke="#111" stroke-width="2.0"/>
<text transform="translate(74.00,245.52) scale(1,1.07)" font-size="21" text-anchor="end" fill="#111" stroke="#111" letter-spacing="-0.8" >500</text>
<line x1="76.30" y1="166.05" x2="83.30" y2="166.05" stroke="#111" stroke-width="2.0"/>
<text transform="translate(74.00,173.85) scale(1,1.07)" font-size="21" text-anchor="end" fill="#111" stroke="#111" letter-spacing="-0.8" >1000</text>
<line x1="76.30" y1="94.37" x2="83.30" y2="94.37" stroke="#111" stroke-width="2.0"/>
<text transform="translate(74.00,102.17) scale(1,1.07)" font-size="21" text-anchor="end" fill="#111" stroke="#111" letter-spacing="-0.8" >1500</text>
<line x1="76.30" y1="22.70" x2="83.30" y2="22.70" stroke="#111" stroke-width="2.0"/>
<text transform="translate(74.00,30.50) scale(1,1.07)" font-size="21" text-anchor="end" fill="#111" stroke="#111" letter-spacing="-0.8" >2000</text>
<line x1="79.80" y1="273.56" x2="83.30" y2="273.56" stroke="#111" stroke-width="2.0"/>
<line x1="79.80" y1="201.89" x2="83.30" y2="201.89" stroke="#111" stroke-width="2.0"/>
<line x1="79.80" y1="130.21" x2="83.30" y2="130.21" stroke="#111" stroke-width="2.0"/>
<line x1="79.80" y1="58.54" x2="83.30" y2="58.54" stroke="#111" stroke-width="2.0"/>
<line x1="83.30" y1="309.40" x2="83.30" y2="316.20" stroke="#111" stroke-width="2.0"/>
<line x1="112.64" y1="309.40" x2="112.64" y2="313.40" stroke="#111" stroke-width="2.0"/>
<line x1="141.98" y1="309.40" x2="141.98" y2="316.20" stroke="#111" stroke-width="2.0"/>
<line x1="171.32" y1="309.40" x2="171.32" y2="313.40" stroke="#111" stroke-width="2.0"/>
<line x1="200.67" y1="309.40" x2="200.67" y2="316.20" stroke="#111" stroke-width="2.0"/>
<line x1="230.01" y1="309.40" x2="230.01" y2="313.40" stroke="#111" stroke-width="2.0"/>
<line x1="259.35" y1="309.40" x2="259.35" y2="316.20" stroke="#111" stroke-width="2.0"/>
<line x1="288.69" y1="309.40" x2="288.69" y2="313.40" stroke="#111" stroke-width="2.0"/>
<line x1="318.03" y1="309.40" x2="318.03" y2="316.20" stroke="#111" stroke-width="2.0"/>
<line x1="347.38" y1="309.40" x2="347.38" y2="313.40" stroke="#111" stroke-width="2.0"/>
<line x1="376.72" y1="309.40" x2="376.72" y2="316.20" stroke="#111" stroke-width="2.0"/>
<line x1="406.06" y1="309.40" x2="406.06" y2="313.40" stroke="#111" stroke-width="2.0"/>
<line x1="435.40" y1="309.40" x2="435.40" y2="316.20" stroke="#111" stroke-width="2.0"/>
<text transform="translate(30.2,167.5) rotate(-90) scale(1,1.07)" font-size="20" text-anchor="middle" fill="#111" stroke="#111">Force [nN]</text>
<rect x="88.6" y="61.3" width="109.3" height="12.5" fill="url(#bg)"/>
<rect x="105.69999999999999" y="30.6" width="79.7" height="31.199999999999996" fill="#6e6e6e" stroke="#141414" stroke-width="4.2"/>
<rect x="107.8" y="32.8" width="75.5" height="4.5" fill="#ececec"/>
<rect x="107.8" y="37.3" width="75.5" height="2.7" fill="#141414"/>
<rect x="88.6" y="107.6" width="109.3" height="12.5" fill="url(#bg)"/>
<rect x="106.0" y="84.8" width="79.30000000000001" height="23.299999999999997" fill="#6e6e6e" stroke="#141414" stroke-width="4.0"/>
<rect x="88.6" y="154.4" width="109.3" height="12.5" fill="url(#bg)"/>
<rect x="106.6" y="130.7" width="79.39999999999999" height="24.20000000000001" fill="#e2e2e2" stroke="#141414" stroke-width="3.2"/>
<text transform="translate(201.50,52.30) scale(1,1.07)" font-size="21" text-anchor="start" fill="#111" stroke="#111" >Bilayer</text>
<text transform="translate(202.50,102.20) scale(1,1.07)" font-size="21" text-anchor="start" fill="#5e5e5e" stroke="#5e5e5e" >1:45</text>
<text transform="translate(202.50,151.10) scale(1,1.07)" font-size="21" text-anchor="start" fill="#b0b0b0" stroke="#b0b0b0" >1:60</text>
<line x1="82.00" y1="320.20" x2="436.10" y2="320.20" stroke="#111" stroke-width="2.0"/>
<line x1="78.00" y1="320.20" x2="82.00" y2="320.20" stroke="#111" stroke-width="2.0"/>
<line x1="436.10" y1="319.20" x2="436.10" y2="614.90" stroke="#111" stroke-width="2.0"/>
<line x1="82.00" y1="319.20" x2="82.00" y2="614.90" stroke="#111" stroke-width="2.0"/>
<line x1="81.00" y1="609.40" x2="437.10" y2="609.40" stroke="#111" stroke-width="2.0"/>
<line x1="75.30" y1="609.40" x2="82.00" y2="609.40" stroke="#111" stroke-width="2.0"/>
<text transform="translate(74.00,615.70) scale(1,1.07)" font-size="21" text-anchor="end" fill="#111" stroke="#111" letter-spacing="-0.8" >0</text>
<line x1="75.30" y1="527.05" x2="82.00" y2="527.05" stroke="#111" stroke-width="2.0"/>
<text transform="translate(74.00,534.05) scale(1,1.07)" font-size="21" text-anchor="end" fill="#111" stroke="#111" letter-spacing="-0.8" >50</text>
<line x1="75.30" y1="444.70" x2="82.00" y2="444.70" stroke="#111" stroke-width="2.0"/>
<text transform="translate(74.00,451.70) scale(1,1.07)" font-size="21" text-anchor="end" fill="#111" stroke="#111" letter-spacing="-0.8" >100</text>
<line x1="75.30" y1="362.35" x2="82.00" y2="362.35" stroke="#111" stroke-width="2.0"/>
<text transform="translate(74.00,369.35) scale(1,1.07)" font-size="21" text-anchor="end" fill="#111" stroke="#111" letter-spacing="-0.8" >150</text>
<line x1="78.50" y1="568.23" x2="82.00" y2="568.23" stroke="#111" stroke-width="2.0"/>
<line x1="78.50" y1="485.88" x2="82.00" y2="485.88" stroke="#111" stroke-width="2.0"/>
<line x1="78.50" y1="403.52" x2="82.00" y2="403.52" stroke="#111" stroke-width="2.0"/>
<line x1="82.00" y1="609.40" x2="82.00" y2="614.70" stroke="#111" stroke-width="2.0"/>
<line x1="111.51" y1="609.40" x2="111.51" y2="612.90" stroke="#111" stroke-width="2.0"/>
<line x1="141.02" y1="609.40" x2="141.02" y2="614.70" stroke="#111" stroke-width="2.0"/>
<line x1="170.53" y1="609.40" x2="170.53" y2="612.90" stroke="#111" stroke-width="2.0"/>
<line x1="200.03" y1="609.40" x2="200.03" y2="614.70" stroke="#111" stroke-width="2.0"/>
<line x1="229.54" y1="609.40" x2="229.54" y2="612.90" stroke="#111" stroke-width="2.0"/>
<line x1="259.05" y1="609.40" x2="259.05" y2="614.70" stroke="#111" stroke-width="2.0"/>
<line x1="288.56" y1="609.40" x2="288.56" y2="612.90" stroke="#111" stroke-width="2.0"/>
<line x1="318.07" y1="609.40" x2="318.07" y2="614.70" stroke="#111" stroke-width="2.0"/>
<line x1="347.57" y1="609.40" x2="347.57" y2="612.90" stroke="#111" stroke-width="2.0"/>
<line x1="377.08" y1="609.40" x2="377.08" y2="614.70" stroke="#111" stroke-width="2.0"/>
<line x1="406.59" y1="609.40" x2="406.59" y2="612.90" stroke="#111" stroke-width="2.0"/>
<line x1="436.10" y1="609.40" x2="436.10" y2="614.70" stroke="#111" stroke-width="2.0"/>
<text transform="translate(81.00,632.60) scale(1,1.07)" font-size="21" text-anchor="middle" fill="#111" stroke="#111" letter-spacing="-0.3" >0.0</text>
<text transform="translate(140.02,632.60) scale(1,1.07)" font-size="21" text-anchor="middle" fill="#111" stroke="#111" letter-spacing="-0.3" >0.5</text>
<text transform="translate(199.03,632.60) scale(1,1.07)" font-size="21" text-anchor="middle" fill="#111" stroke="#111" letter-spacing="-0.3" >1.0</text>
<text transform="translate(258.05,632.60) scale(1,1.07)" font-size="21" text-anchor="middle" fill="#111" stroke="#111" letter-spacing="-0.3" >1.5</text>
<text transform="translate(317.07,632.60) scale(1,1.07)" font-size="21" text-anchor="middle" fill="#111" stroke="#111" letter-spacing="-0.3" >2.0</text>
<text transform="translate(376.08,632.60) scale(1,1.07)" font-size="21" text-anchor="middle" fill="#111" stroke="#111" letter-spacing="-0.3" >2.5</text>
<text transform="translate(435.10,632.60) scale(1,1.07)" font-size="21" text-anchor="middle" fill="#111" stroke="#111" letter-spacing="-0.3" >3.0</text>
<text transform="translate(258.00,653.30) scale(1,1.07)" font-size="20" text-anchor="middle" fill="#111" stroke="#111" >Indentation Depth [&#181;m]</text>
<text transform="translate(38.6,466) rotate(-90) scale(1,1.07)" font-size="20" text-anchor="middle" fill="#111" stroke="#111">Force<tspan dx="2" dy="-6">2/3</tspan><tspan dx="3" dy="6">[nN</tspan><tspan dx="5.5" dy="-6">2/3</tspan><tspan dx="0.8" dy="6">]</tspan></text>
<g filter="url(#soft)">
<polygon points="86.5,745.0 90.5,740 162,740 166,745.0 162,750 90.5,750" fill="#8a8a8a" opacity="1"/>
<ellipse cx="112" cy="740.2" rx="5" ry="2.2" fill="#999" opacity="1"/>
<ellipse cx="140" cy="739.8" rx="6" ry="2.0" fill="#999" opacity="1"/>
<polygon points="88,745.0 90,741.5 162,741.5 164,745.0 162,748.5 90,748.5" fill="#666" opacity="1"/>
<rect x="89.00" y="743.20" width="74.00" height="3.20" rx="0" fill="#0c0c0c" opacity="1"/>
<polygon points="125.7,745.0999999999999 129.9,749.3 125.7,753.5 121.5,749.3" fill="#6a6a6a" opacity="1"/>
<rect x="121.30" y="742.40" width="10.00" height="4.60" rx="0" fill="#000" opacity="1"/>
<polygon points="175,752.25 178,748.5 249.5,748.5 252.5,752.25 249.5,756 178,756" fill="#8a8a8a" opacity="1"/>
<rect x="186.00" y="757.00" width="55.00" height="6.20" rx="3" fill="#9a9a9a" opacity="1"/>
<rect x="176.00" y="752.40" width="73.60" height="6.20" rx="0" fill="#0a0a0a" opacity="1"/>
<rect x="209.00" y="752.00" width="10.00" height="7.00" rx="0" fill="#000" opacity="0.6"/>
<rect x="87.00" y="884.20" width="77.00" height="14.80" rx="4" fill="#b4b4b4" opacity="1"/>
<rect x="89.60" y="887.70" width="72.00" height="6.10" rx="0" fill="#0a0a0a" opacity="1"/>
<polygon points="125.3,911.8 129.8,916.3 125.3,920.8 120.8,916.3" fill="#a8a8a8" opacity="1"/>
<ellipse cx="302.2" cy="896.8" rx="6" ry="4.8" fill="#a6a6a6" opacity="1"/>
<rect x="268.00" y="904.50" width="73.00" height="12.50" rx="4" fill="#b8b8b8" opacity="1"/>
<ellipse cx="301" cy="917" rx="17" ry="5.5" fill="#b0b0b0" opacity="1"/>
<rect x="266.70" y="907.60" width="71.80" height="6.50" rx="2" fill="#0a0a0a" opacity="1"/>
<rect x="353.00" y="901.00" width="77.00" height="10.70" rx="3" fill="#c2c2c2" opacity="1"/>
<rect x="354.00" y="903.50" width="75.00" height="6.50" rx="2" fill="#a0a0a0" opacity="1"/>
<rect x="354.50" y="905.60" width="73.80" height="2.70" rx="0" fill="#0a0a0a" opacity="1"/>
<rect x="386.30" y="904.30" width="10.10" height="4.70" rx="0" fill="#000" opacity="1"/>
</g>
<line x1="125.10" y1="886.50" x2="125.10" y2="896.20" stroke="#111" stroke-width="1.8"/>
<line x1="120.20" y1="886.70" x2="130.20" y2="886.70" stroke="#111" stroke-width="2.2"/>
<line x1="120.20" y1="896.10" x2="130.30" y2="896.10" stroke="#111" stroke-width="2.2"/>
<line x1="302.60" y1="903.70" x2="302.60" y2="919.20" stroke="#111" stroke-width="1.8"/>
<line x1="297.20" y1="903.70" x2="308.20" y2="903.70" stroke="#111" stroke-width="2.4"/>
<line x1="297.20" y1="919.20" x2="308.20" y2="919.20" stroke="#111" stroke-width="2.4"/>
<line x1="81.30" y1="667.60" x2="435.60" y2="667.60" stroke="#111" stroke-width="2.0"/>
<line x1="435.60" y1="666.60" x2="435.60" y2="953.40" stroke="#111" stroke-width="2.0"/>
<line x1="81.30" y1="666.60" x2="81.30" y2="953.40" stroke="#111" stroke-width="2.0"/>
<line x1="80.30" y1="952.40" x2="436.60" y2="952.40" stroke="#111" stroke-width="2.0"/>
<line x1="75.30" y1="952.30" x2="81.30" y2="952.30" stroke="#111" stroke-width="2.0"/>
<line x1="435.60" y1="952.30" x2="429.60" y2="952.30" stroke="#111" stroke-width="2.0"/>
<line x1="75.30" y1="774.20" x2="81.30" y2="774.20" stroke="#111" stroke-width="2.0"/>
<line x1="435.60" y1="774.20" x2="429.60" y2="774.20" stroke="#111" stroke-width="2.0"/>
<line x1="77.80" y1="898.69" x2="81.30" y2="898.69" stroke="#111" stroke-width="2.0"/>
<line x1="435.60" y1="898.69" x2="432.10" y2="898.69" stroke="#111" stroke-width="2.0"/>
<line x1="77.80" y1="867.32" x2="81.30" y2="867.32" stroke="#111" stroke-width="2.0"/>
<line x1="435.60" y1="867.32" x2="432.10" y2="867.32" stroke="#111" stroke-width="2.0"/>
<line x1="77.80" y1="845.07" x2="81.30" y2="845.07" stroke="#111" stroke-width="2.0"/>
<line x1="435.60" y1="845.07" x2="432.10" y2="845.07" stroke="#111" stroke-width="2.0"/>
<line x1="77.80" y1="827.81" x2="81.30" y2="827.81" stroke="#111" stroke-width="2.0"/>
<line x1="435.60" y1="827.81" x2="432.10" y2="827.81" stroke="#111" stroke-width="2.0"/>
<line x1="77.80" y1="813.71" x2="81.30" y2="813.71" stroke="#111" stroke-width="2.0"/>
<line x1="435.60" y1="813.71" x2="432.10" y2="813.71" stroke="#111" stroke-width="2.0"/>
<line x1="77.80" y1="801.79" x2="81.30" y2="801.79" stroke="#111" stroke-width="2.0"/>
<line x1="435.60" y1="801.79" x2="432.10" y2="801.79" stroke="#111" stroke-width="2.0"/>
<line x1="77.80" y1="791.46" x2="81.30" y2="791.46" stroke="#111" stroke-width="2.0"/>
<line x1="435.60" y1="791.46" x2="432.10" y2="791.46" stroke="#111" stroke-width="2.0"/>
<line x1="77.80" y1="782.35" x2="81.30" y2="782.35" stroke="#111" stroke-width="2.0"/>
<line x1="435.60" y1="782.35" x2="432.10" y2="782.35" stroke="#111" stroke-width="2.0"/>
<line x1="77.80" y1="720.59" x2="81.30" y2="720.59" stroke="#111" stroke-width="2.0"/>
<line x1="435.60" y1="720.59" x2="432.10" y2="720.59" stroke="#111" stroke-width="2.0"/>
<line x1="77.80" y1="689.22" x2="81.30" y2="689.22" stroke="#111" stroke-width="2.0"/>
<line x1="435.60" y1="689.22" x2="432.10" y2="689.22" stroke="#111" stroke-width="2.0"/>
<line x1="77.80" y1="666.97" x2="81.30" y2="666.97" stroke="#111" stroke-width="2.0"/>
<line x1="435.60" y1="666.97" x2="432.10" y2="666.97" stroke="#111" stroke-width="2.0"/>
<line x1="125.20" y1="952.40" x2="125.20" y2="959.10" stroke="#111" stroke-width="2.0"/>
<line x1="125.20" y1="667.60" x2="125.20" y2="674.60" stroke="#111" stroke-width="2.0"/>
<line x1="213.90" y1="952.40" x2="213.90" y2="959.10" stroke="#111" stroke-width="2.0"/>
<line x1="213.90" y1="667.60" x2="213.90" y2="674.60" stroke="#111" stroke-width="2.0"/>
<line x1="302.40" y1="952.40" x2="302.40" y2="959.10" stroke="#111" stroke-width="2.0"/>
<line x1="302.40" y1="667.60" x2="302.40" y2="674.60" stroke="#111" stroke-width="2.0"/>
<line x1="391.20" y1="952.40" x2="391.20" y2="959.10" stroke="#111" stroke-width="2.0"/>
<line x1="391.20" y1="667.60" x2="391.20" y2="674.60" stroke="#111" stroke-width="2.0"/>
<text transform="translate(67.50,780.50) scale(1,1.07)" font-size="21" text-anchor="end" fill="#111" stroke="#111" letter-spacing="-0.5" >10</text>
<text transform="translate(66.50,768.00) scale(1,1.07)" font-size="21" text-anchor="start" fill="#111" stroke="#111" >2</text>
<text transform="translate(66.30,958.00) scale(1,1.07)" font-size="21" text-anchor="end" fill="#111" stroke="#111" letter-spacing="-1.2" >10</text>
<text transform="translate(68.80,945.30) scale(1,1.07)" font-size="21" text-anchor="start" fill="#111" stroke="#111" >1</text>
<text transform="translate(35,801.2) rotate(-90) scale(1,1.07)" font-size="20.5" text-anchor="middle" fill="#111" stroke="#111">Modulus [kPa]</text>
<text transform="translate(124.20,976.80) scale(1,1.07)" font-size="21" text-anchor="middle" fill="#111" stroke="#111" >Bilayer</text>
<text transform="translate(213.20,976.80) scale(1,1.07)" font-size="21" text-anchor="middle" fill="#111" stroke="#111" >1:45</text>
<text transform="translate(301.00,976.80) scale(1,1.07)" font-size="21" text-anchor="middle" fill="#111" stroke="#111" >1:60</text>
<text transform="translate(393.80,976.80) scale(1,1.07)" font-size="21" text-anchor="middle" fill="#111" stroke="#111" >1:60</text>
<text transform="translate(300.00,1004.30) scale(1,1.07)" font-size="21" text-anchor="middle" fill="#111" stroke="#111" >75 &#181;m</text>
<text transform="translate(393.50,1004.30) scale(1,1.07)" font-size="21" text-anchor="middle" fill="#111" stroke="#111" >8 &#181;m</text>
</svg></body></html>
